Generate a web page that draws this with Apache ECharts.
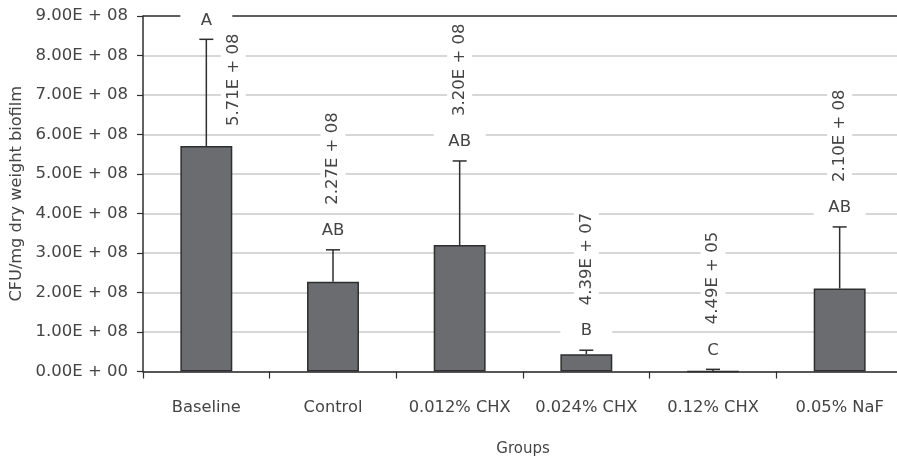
<!DOCTYPE html>
<html>
<head>
<meta charset="utf-8">
<script src="https://cdn.jsdelivr.net/npm/echarts@6/dist/echarts.min.js"></script>
<style>
html,body{margin:0;padding:0;background:#fff;overflow:hidden;}
#chart{width:897px;height:458px;}
</style>
</head>
<body>
<div id="chart"></div>
<script>
// ---- data ----
const groups = ['Baseline', 'Control', '0.012% CHX', '0.024% CHX', '0.12% CHX', '0.05% NaF'];
const means = [5.71e8, 2.27e8, 3.20e8, 4.39e7, 4.49e5, 2.10e8];
const sds = [2.70e8, 0.81e8, 2.13e8, 1.0e7, 5.0e6, 1.56e8];
const letters = ['A', 'AB', 'AB', 'B', 'C', 'AB'];
const yMax = 9e8;
const yStep = 1e8;

// ---- helpers ----
function sci(v) {
  if (v === 0) return '0.00E + 00';
  let e = Math.floor(Math.log10(v));
  let m = v / Math.pow(10, e);
  if (Number(m.toFixed(2)) >= 10) { m = m / 10; e += 1; }
  return m.toFixed(2) + 'E + ' + String(e).padStart(2, '0');
}

const FONT = 'DejaVu Sans';
const TXT = '#444444';
const BAR_RATIO = 0.41;

const chart = echarts.init(document.getElementById('chart'));
const gridTop = 16;

const splitColors = [];
for (let k = 0; k < Math.round(yMax / yStep); k++) splitColors.push('#cacaca');
splitColors.push('#2a2a2a');

chart.setOption({
  animation: false,
  backgroundColor: '#fff',
  grid: { left: 143, width: 760, top: gridTop, bottom: 86.5, containLabel: false, outerBoundsMode: 'none' },
  xAxis: {
    type: 'category',
    data: groups,
    name: 'Groups',
    nameLocation: 'middle',
    nameGap: 70,
    nameTextStyle: { fontFamily: FONT, fontSize: 15, color: TXT },
    axisLine: { lineStyle: { color: '#2e2e2e', width: 1.5 } },
    axisTick: { show: true, length: 7, interval: 0, lineStyle: { color: '#2e2e2e', width: 1.2 } },
    axisLabel: { interval: 0, margin: 28, fontFamily: FONT, fontSize: 16.3, color: TXT },
    splitLine: { show: false }
  },
  yAxis: {
    type: 'value',
    min: 0,
    max: yMax,
    interval: yStep,
    name: 'CFU/mg dry weight biofilm',
    nameLocation: 'middle',
    nameGap: 117,
    nameTextStyle: { fontFamily: FONT, fontSize: 16.2, color: TXT },
    axisLine: { show: true, lineStyle: { color: '#2e2e2e', width: 1.5 } },
    axisTick: { show: true, length: 6, lineStyle: { color: '#2e2e2e', width: 1.2 } },
    axisLabel: { margin: 15, fontFamily: FONT, fontSize: 16.5, color: TXT, formatter: sci },
    splitLine: { show: true, lineStyle: { color: splitColors, width: 1.5 } }
  },
  series: [
    {
      type: 'bar',
      data: means,
      barWidth: (BAR_RATIO * 100) + '%',
      itemStyle: { color: '#6b6c70', borderColor: '#2e2e2e', borderWidth: 1.5 },
      z: 2
    },
    {
      type: 'custom',
      z: 5,
      data: means.map((m, i) => [i, m, sds[i]]),
      renderItem: function (params, api) {
        const i = api.value(0);
        const mean = api.value(1);
        const sd = api.value(2);
        const base = api.coord([i, mean]);
        const top = api.coord([i, mean + sd]);
        const band = api.size([1, 0])[0];
        const bw = band * BAR_RATIO;
        const cx = base[0];
        const capY = top[1];
        const letterY = capY - 20;
        const label = sci(means[params.dataIndex]);
        const labelLen = 95;
        const children = [
          { type: 'line', shape: { x1: cx, y1: base[1], x2: cx, y2: capY }, style: { stroke: '#2e2e2e', lineWidth: 1.5 } },
          { type: 'line', shape: { x1: cx - 7, y1: capY, x2: cx + 7, y2: capY }, style: { stroke: '#2e2e2e', lineWidth: 1.5 } },
          { type: 'rect', shape: { x: cx - bw / 2, y: letterY - 9, width: bw, height: 18 }, style: { fill: '#fff' } },
          { type: 'text', x: cx, y: letterY + 1, style: { text: letters[params.dataIndex], x: 0, y: 0, align: 'center', verticalAlign: 'middle', fontFamily: FONT, fontSize: 16.5, fill: TXT } }
        ];
        let lx, ly;
        if (letterY - 23 - labelLen < gridTop) {
          lx = cx + bw / 2 + 1;
          ly = base[1] - 18;
        } else {
          lx = cx;
          ly = letterY - 23;
        }
        children.push({
          type: 'text', x: lx, y: ly, rotation: Math.PI / 2,
          style: {
            text: label, x: 0, y: 0, align: 'left', verticalAlign: 'middle',
            fontFamily: FONT, fontSize: 16.5, fill: TXT,
            backgroundColor: '#fff', padding: [4, 2]
          }
        });
        return { type: 'group', children: children };
      }
    }
  ]
});
</script>
</body>
</html>
